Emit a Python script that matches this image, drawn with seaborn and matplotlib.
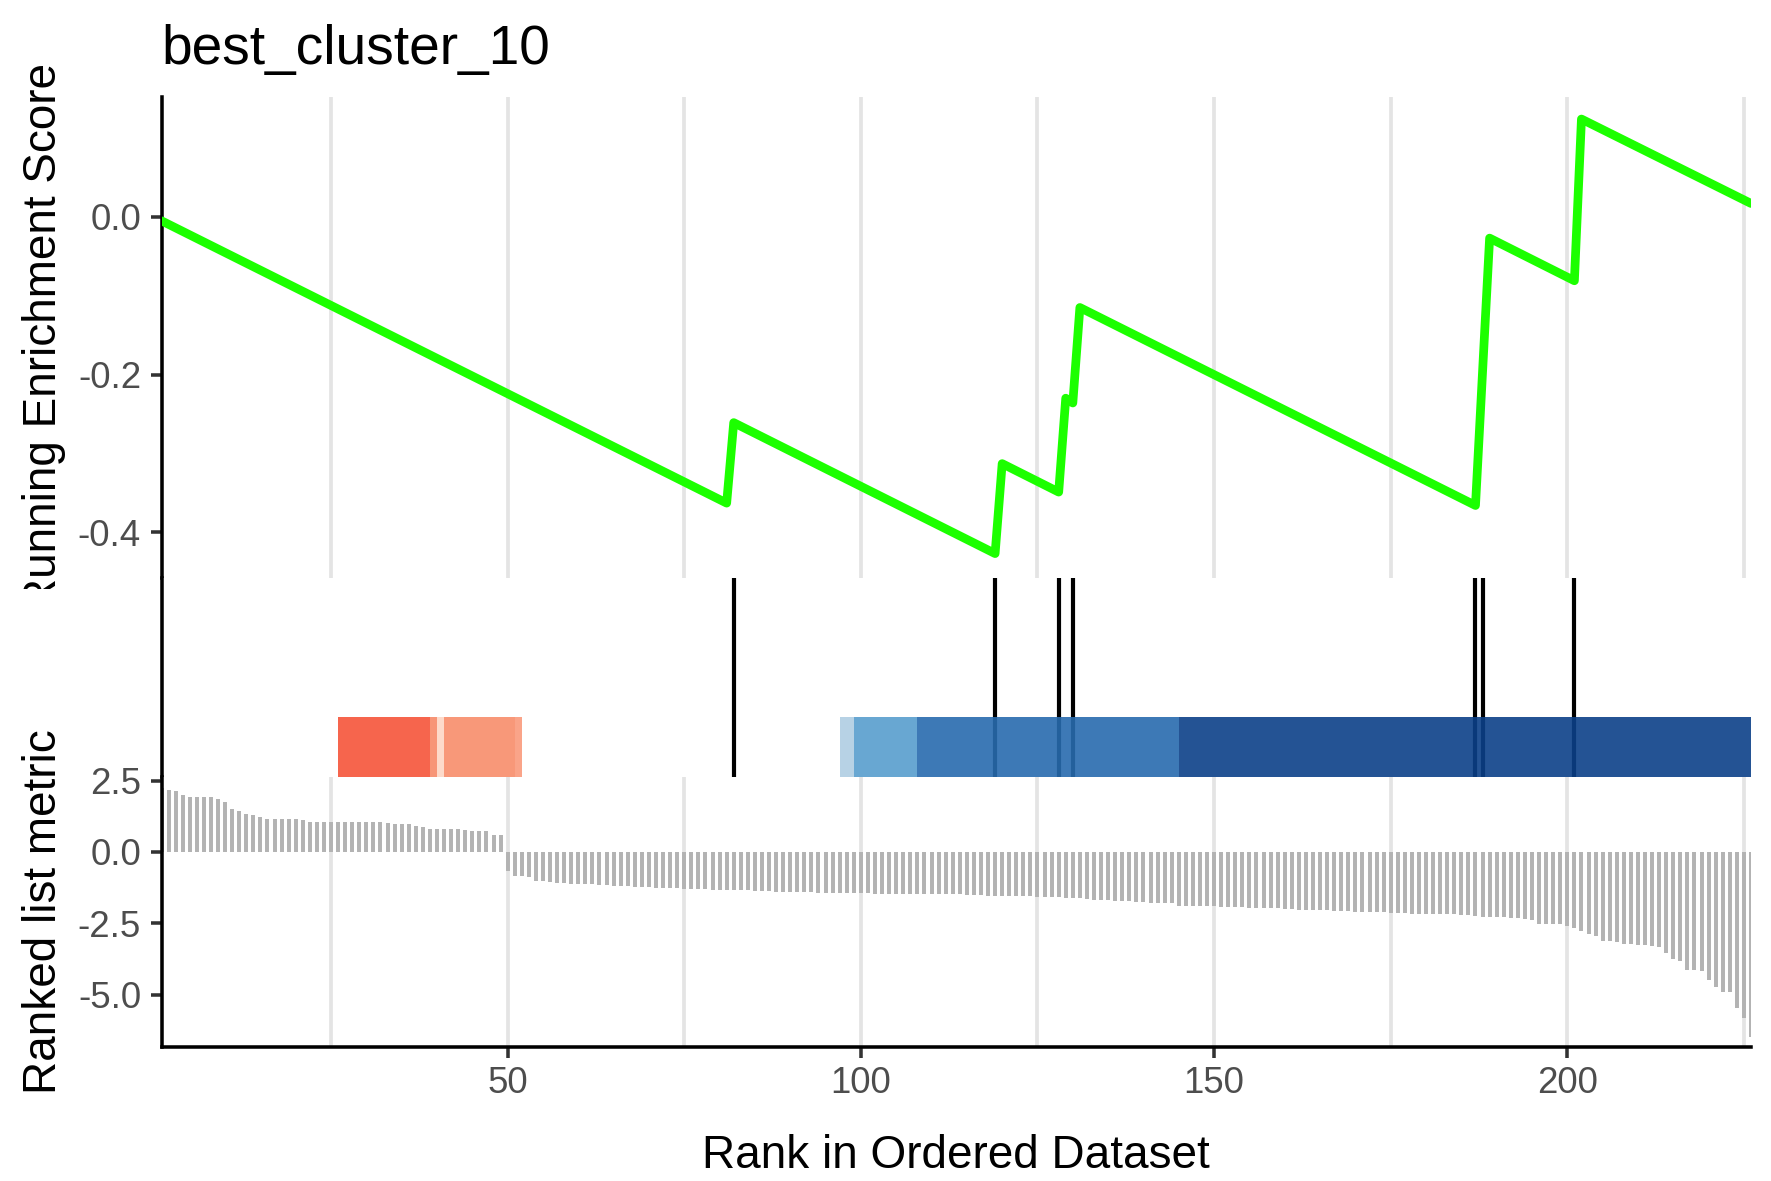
import numpy as np
import pandas as pd
import matplotlib
matplotlib.use("Agg")
import matplotlib.pyplot as plt
import seaborn as sns
from matplotlib.transforms import Bbox, TransformedBbox

# ---------------- data ----------------
title = "best_cluster_10"

# running enrichment score (vertices of the curve)
es_x = [1, 81, 82, 119, 120, 128, 129, 130, 131, 187, 189, 201, 202, 226]
es_y = [-0.005, -0.363, -0.261, -0.427, -0.313, -0.349, -0.230, -0.236,
        -0.115, -0.366, -0.027, -0.081, 0.124, 0.017]

# gene-set hit positions
hits = [82, 119, 128, 130, 187, 188, 201]

# ranked list metric, positive part (ranks 1-49)
metric_pos = [2.25, 2.16, 2.13, 1.99, 1.92, 1.92, 1.92, 1.92, 1.86, 1.76,
              1.52, 1.43, 1.34, 1.29, 1.21, 1.17, 1.17, 1.17, 1.16, 1.14,
              1.11, 1.06, 1.06, 1.06, 1.06, 1.06, 1.06, 1.06, 1.06, 1.06,
              1.04, 1.04, 1.02, 0.99, 0.99, 0.98, 0.91, 0.88, 0.81, 0.80,
              0.80, 0.80, 0.80, 0.76, 0.75, 0.75, 0.72, 0.58, 0.58]
# ranked list metric, negative part (ranks 50-226)
metric_neg = [-0.68, -0.83, -0.83, -0.87, -1.01, -1.03, -1.04, -1.08, -1.09, -1.11,
              -1.12, -1.13, -1.13, -1.15, -1.16, -1.18, -1.18, -1.20, -1.22, -1.22,
              -1.23, -1.25, -1.25, -1.26, -1.28, -1.29, -1.30, -1.30, -1.31, -1.32,
              -1.32, -1.34, -1.34, -1.35, -1.35, -1.36, -1.37, -1.38, -1.39, -1.39,
              -1.41, -1.41, -1.42, -1.42, -1.43, -1.44, -1.44, -1.44, -1.44, -1.45,
              -1.45, -1.45, -1.46, -1.46, -1.46, -1.47, -1.47, -1.47, -1.47, -1.48,
              -1.48, -1.48, -1.48, -1.49, -1.49, -1.50, -1.50, -1.52, -1.53, -1.53,
              -1.54, -1.54, -1.56, -1.56, -1.56, -1.58, -1.58, -1.58, -1.59, -1.62,
              -1.62, -1.62, -1.66, -1.69, -1.69, -1.69, -1.71, -1.72, -1.73, -1.74,
              -1.77, -1.80, -1.80, -1.80, -1.80, -1.89, -1.89, -1.89, -1.89, -1.89,
              -1.91, -1.92, -1.92, -1.93, -1.93, -1.95, -1.96, -1.96, -1.96, -1.98,
              -1.99, -2.00, -2.02, -2.03, -2.04, -2.05, -2.05, -2.06, -2.07, -2.08,
              -2.10, -2.11, -2.11, -2.11, -2.12, -2.14, -2.15, -2.15, -2.16, -2.17,
              -2.17, -2.18, -2.19, -2.19, -2.19, -2.20, -2.22, -2.26, -2.28, -2.29,
              -2.29, -2.29, -2.30, -2.32, -2.34, -2.39, -2.51, -2.51, -2.53, -2.53,
              -2.58, -2.67, -2.76, -2.88, -2.96, -3.11, -3.13, -3.17, -3.22, -3.23,
              -3.26, -3.26, -3.28, -3.35, -3.56, -3.77, -3.84, -4.13, -4.13, -4.19,
              -4.50, -4.75, -4.91, -4.91, -5.46, -5.84, -6.48]

# colour bar segments
band_start = [26, 39, 40, 41, 51, 97, 99, 108, 145]
band_end = [39, 40, 41, 51, 52, 99, 108, 145, 226]
band_colors = ["#F6543A", "#F78A68", "#FDD6C5", "#F88D6A", "#FA9A7C",
               "#B0CDE3", "#589ECD", "#286BAE", "#0C4088"]

x_ticks = [50, 100, 150, 200]
x_minor = [25, 75, 125, 175, 225]
es_ticks = [-0.4, -0.2, 0.0]
es_tick_labels = ["-0.4", "-0.2", "0.0"]
metric_ticks = [-5.0, -2.5, 0.0, 2.5]
metric_tick_labels = ["-5.0", "-2.5", "0.0", "2.5"]

# ---------------- style ----------------
sns.set_theme(style="white")
plt.rcParams["font.family"] = ["Liberation Sans", "DejaVu Sans"]

W, H = 1771, 1181
fig = plt.figure(figsize=(W / 300, H / 300), dpi=300)

PL, PR = 161.5, 1751
left = PL / W
width = (PR - PL) / W
def ypos(top_px, bot_px):
    return [left, 1 - bot_px / H, width, (bot_px - top_px) / H]

ax1 = fig.add_axes(ypos(97, 578))
ax2 = fig.add_axes(ypos(578, 777))
ax3 = fig.add_axes(ypos(777, 1047))

grid_col = "#E4E4E4"
tick_col = "#333333"
lab_col = "#4D4D4D"
spine_lw = 0.85

for ax in (ax1, ax2, ax3):
    ax.set_xlim(1, 226)
    ax.set_facecolor("white")
    for s in ("top", "right", "bottom"):
        ax.spines[s].set_visible(False)
    ax.spines["left"].set_color("black")
    ax.spines["left"].set_linewidth(spine_lw)
    ax.set_axisbelow(True)

# ---- panel 1: running ES ----
es_df = pd.DataFrame({"x": es_x, "es": es_y})
sns.lineplot(data=es_df, x="x", y="es", ax=ax1, color="#1CFF00",
             linewidth=2.1, sort=False, zorder=3)
ax1.set_ylim(-0.458, 0.152)
ax1.set_xticks(x_ticks)
ax1.set_xticks(x_minor, minor=True)
ax1.grid(axis="x", which="both", color=grid_col, linewidth=0.9)
ax1.grid(axis="y", visible=False)
ax1.tick_params(axis="x", which="both", length=0, labelbottom=False)
ax1.set_yticks(es_ticks)
ax1.set_yticklabels(es_tick_labels)
ax1.tick_params(axis="y", length=2.6, width=spine_lw, color=tick_col,
                labelcolor=lab_col, labelsize=8.8, pad=2.3, left=True)
ax1.set_xlabel("")
ax1.set_ylabel("")

# ---- panel 2: hits + colour bar ----
ax2.vlines(hits, 0, 1, color="black", linewidth=1.0, zorder=2)
ax2.bar(band_start, 0.3, width=np.subtract(band_end, band_start), align="edge",
        bottom=0, color=band_colors, alpha=0.9, linewidth=0, zorder=3)
ax2.set_ylim(0, 1)
ax2.set_xticks([])
ax2.set_yticks([])
ax2.grid(False)

# ---- panel 3: ranked list metric ----
metric = metric_pos + metric_neg
ranks = np.arange(1, len(metric) + 1)
ax3.vlines(ranks, 0, metric, color="#B3B3B3", linewidth=0.95, zorder=2)
ax3.set_ylim(-6.84, 2.63)
ax3.set_xticks(x_ticks)
ax3.set_xticks(x_minor, minor=True)
ax3.grid(axis="x", which="both", color=grid_col, linewidth=0.9)
ax3.grid(axis="y", visible=False)
ax3.spines["bottom"].set_visible(True)
ax3.spines["bottom"].set_color("black")
ax3.spines["bottom"].set_linewidth(spine_lw)
ax3.set_xticklabels([str(t) for t in x_ticks])
ax3.tick_params(axis="x", which="major", length=2.6, width=spine_lw, color=tick_col,
                labelcolor=lab_col, labelsize=8.8, pad=2.0, bottom=True)
ax3.tick_params(axis="x", which="minor", length=0)
ax3.set_yticks(metric_ticks)
ax3.set_yticklabels(metric_tick_labels)
ax3.tick_params(axis="y", length=2.6, width=spine_lw, color=tick_col,
                labelcolor=lab_col, labelsize=8.8, pad=2.3, left=True)
ax3.set_xlabel("")
ax3.set_ylabel("")

# ---- texts ----
fig.text(left, 1 - 64 / H, title, ha="left", va="baseline",
         fontsize=13.2, color="black")

t1 = fig.text(44 / W, 1 - 337 / H, "Running Enrichment Score", rotation=90,
              ha="center", va="center", fontsize=11, color="black")
clip = TransformedBbox(Bbox([[0, 1 - 589 / H], [1, 1]]), fig.transFigure)
t1.set_clip_box(clip)
t1.set_clip_on(True)

fig.text(44 / W, 1 - 912 / H, "Ranked list metric", rotation=90,
         ha="center", va="center", fontsize=11, color="black")

fig.text(left + width / 2, 1 - 1168 / H, "Rank in Ordered Dataset",
         ha="center", va="baseline", fontsize=11, color="black")

fig.savefig("out.png", dpi=300, facecolor="white")
